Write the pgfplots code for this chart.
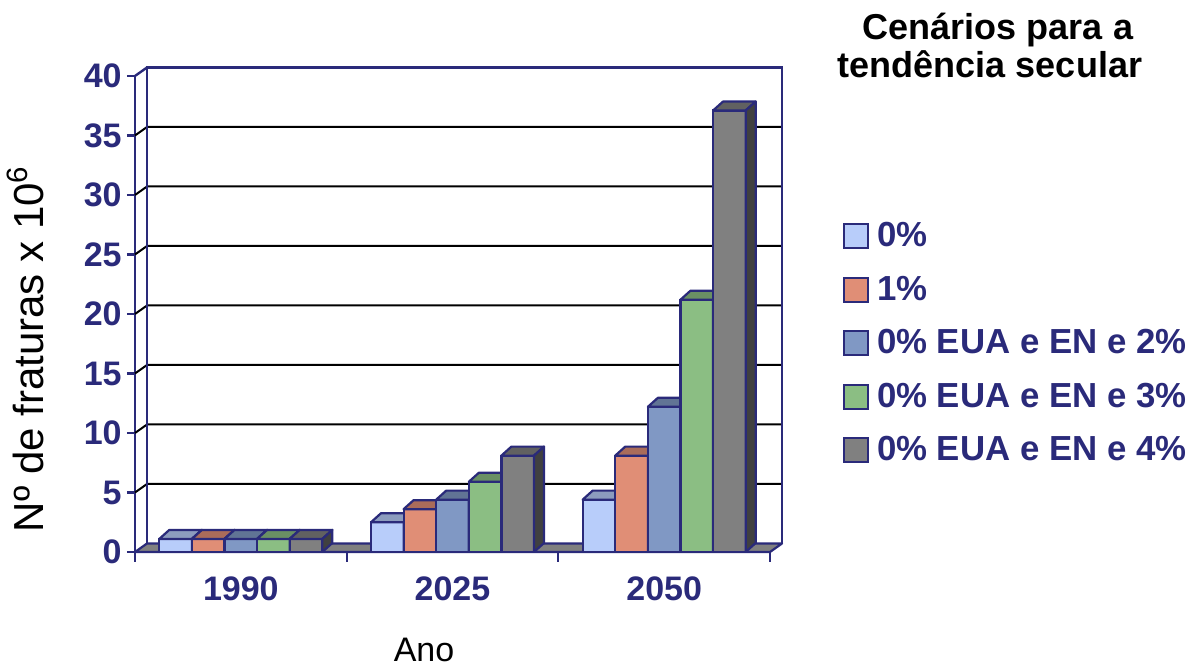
\documentclass[border=0pt]{standalone}
\usepackage{pgfplots}
\pgfplotsset{compat=1.18}
\usepackage{pgfplotstable}
\usepackage{fontspec}
\setmainfont{Liberation Sans}

\definecolor{navy}{RGB}{42,42,122}
\definecolor{cA}{RGB}{184,205,250}
\definecolor{cB}{RGB}{224,142,118}
\definecolor{cC}{RGB}{128,152,196}
\definecolor{cD}{RGB}{139,190,131}
\definecolor{cE}{RGB}{128,128,128}
\definecolor{floorgray}{RGB}{128,128,128}

% fractures (millions) per year and scenario
\pgfplotstableread{
x    p0   p1   p2    p3    p4
0.5  1.1  1.1  1.1   1.1   1.1
1.5  2.5  3.6  4.4   5.9   8.1
2.5  4.4  8.1  12.2  21.2  37.1
}\fracturedata

\newcommand{\lbl}{\fontsize{17}{20}\selectfont\bfseries}

% an invisible mark: the scatter code below draws the 3-D columns itself
\pgfdeclareplotmark{nomark}{}

\pgfplotsset{
  frontbar/.style={ybar, bar width=16.3pt, fill=#1, draw=navy, line width=1.1pt,
    legend image code/.code={\draw[fill=#1, draw=navy, line width=1pt] (0pt,-6.7pt) rectangle (12pt,5.3pt);}},
  % front, top and right side faces of each column; #4 is the column's shift
  column3d/.style n args={4}{forget plot, only marks, scatter, mark=nomark,
    visualization depends on={rawy \as \barvalue},
    scatter/@pre marker code/.code={%
      \pgfmathsetmacro\barheight{\barvalue*5.95}%
      \filldraw[fill=#1, draw=navy, line width=1.1pt, line join=round]
        (-8.15pt+#4,0pt) rectangle (8.15pt+#4,-\barheight pt);
      \filldraw[fill=#2, draw=navy, line width=1.1pt, line join=round]
        (-8.15pt+#4,0pt) -- (8.15pt+#4,0pt) -- (13.15pt+#4,4.5pt) -- (-3.15pt+#4,4.5pt) -- cycle;
      \filldraw[fill=#3, draw=navy, line width=1.1pt, line join=round]
        (8.15pt+#4,0pt) -- (13.15pt+#4,4.5pt) -- (13.15pt+#4,4.5pt-\barheight pt) -- (8.15pt+#4,-\barheight pt) -- cycle;
    },
    scatter/@post marker code/.code={}},
}

\begin{document}
\begin{tikzpicture}
\useasboundingbox (0,0) rectangle (597pt,334pt);
\begin{axis}[
  at={(67.5pt,58pt)}, anchor=south west,
  x=105.8333pt, y=5.95pt,
  xmin=0, xmax=3, ymin=0, ymax=40,
  clip=false,
  axis x line*=bottom, axis y line*=left,
  axis line style={draw=navy, line width=1.2pt},
  xtick={0.5,1.5,2.5}, xticklabels={1990,2025,2050},
  xtick style={draw=none},
  ytick={0,5,...,40},
  ytick style={draw=navy, line width=1.1pt},
  tick align=outside, major tick length=4pt,
  /pgf/number format/assume math mode=true,
  ticklabel style={font=\lbl, text=navy, inner sep=0pt},
  yticklabel style={anchor=east, xshift=-2.5pt},
  xticklabel style={anchor=north, yshift=-8pt},
  legend style={at={(1.115,0.6912)}, anchor=north west, draw=none, fill=none,
    inner sep=0pt, outer sep=0pt, font=\fontsize{17.4}{20}\selectfont\bfseries, text=navy, row sep=13.5pt,
    nodes={inner sep=0pt, text height=12pt, text depth=0pt},
    /tikz/every odd column/.append style={column sep=4pt}},
  legend cell align=left,
]
% back wall and its gridlines
\pgfplotsinvokeforeach{5,10,...,35}{
  \draw[black, line width=1pt] (axis cs:0,#1) -- ([shift={(6pt,4.25pt)}]axis cs:0,#1) -- ([shift={(6pt,4.25pt)}]axis cs:3,#1);
}
\draw[navy, line width=1.2pt] ([shift={(6pt,4.25pt)}]axis cs:0,0) -- ([shift={(6pt,4.25pt)}]axis cs:0,40)
  -- ([shift={(6pt,4.25pt)}]axis cs:3,40) -- ([shift={(6pt,4.25pt)}]axis cs:3,0);
\draw[navy, line width=1.2pt] (axis cs:0,40) -- ([shift={(6pt,4.25pt)}]axis cs:0,40);
% floor
\filldraw[fill=floorgray, draw=navy, line width=1.1pt, line join=round] (axis cs:0,0) -- (axis cs:3,0)
  -- ([shift={(6pt,4.25pt)}]axis cs:3,0) -- ([shift={(6pt,4.25pt)}]axis cs:0,0) -- cycle;
\pgfplotsinvokeforeach{0,1,2,3}{
  \draw[navy, line width=1.1pt] (axis cs:#1,0) -- ++(0,-5pt);
}

\addplot[frontbar=cA, bar shift=-32.6pt] table[x=x, y=p0] {\fracturedata};
\addlegendentry{0\%}
\addplot[column3d={cA}{cA!76!black}{cA!50!black}{-32.6pt}] table[x=x, y=p0] {\fracturedata};

\addplot[frontbar=cB, bar shift=-16.3pt] table[x=x, y=p1] {\fracturedata};
\addlegendentry{1\%}
\addplot[column3d={cB}{cB!76!black}{cB!50!black}{-16.3pt}] table[x=x, y=p1] {\fracturedata};

\addplot[frontbar=cC, bar shift=0pt] table[x=x, y=p2] {\fracturedata};
\addlegendentry{0\% EUA e EN e 2\%}
\addplot[column3d={cC}{cC!76!black}{cC!50!black}{0pt}] table[x=x, y=p2] {\fracturedata};

\addplot[frontbar=cD, bar shift=16.3pt] table[x=x, y=p3] {\fracturedata};
\addlegendentry{0\% EUA e EN e 3\%}
\addplot[column3d={cD}{cD!76!black}{cD!50!black}{16.3pt}] table[x=x, y=p3] {\fracturedata};

\addplot[frontbar=cE, bar shift=32.6pt] table[x=x, y=p4] {\fracturedata};
\addlegendentry{0\% EUA e EN e 4\%}
\addplot[column3d={cE}{cE!76!black}{cE!50!black}{32.6pt}] table[x=x, y=p4] {\fracturedata};
\end{axis}

% titles and axis names
\node[anchor=base, font=\fontsize{18}{20}\selectfont\bfseries] at (499pt,314pt) {Cenários para a};
\node[anchor=base, font=\fontsize{18}{20}\selectfont\bfseries] at (495pt,295pt) {tendência secular};
\node[anchor=base, font=\fontsize{17}{20}\selectfont] at (212pt,3pt) {Ano};
\node[anchor=base, rotate=90, font=\fontsize{21}{24}\selectfont] at (21.5pt,159.5pt) {Nº de fraturas x 10\textsuperscript{6}};
\end{tikzpicture}
\end{document}
